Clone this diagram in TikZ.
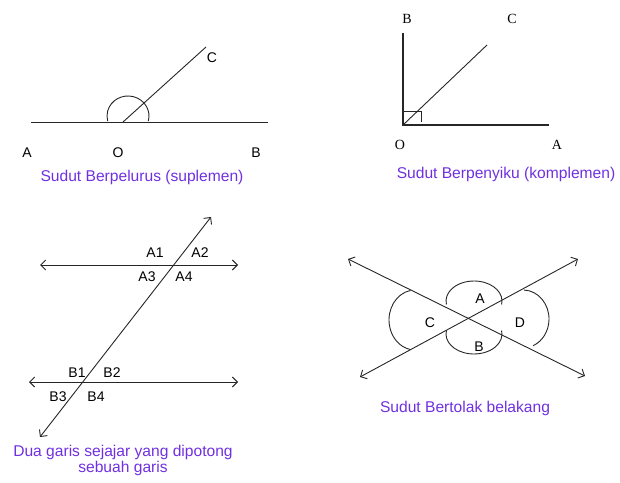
\documentclass[tikz,border=0pt]{standalone}
\usepackage{fontspec}
\setmainfont{Liberation Sans}
\newfontfamily\serifx{Liberation Serif}
\usetikzlibrary{arrows.meta}
\definecolor{capcol}{RGB}{112,48,224}
\begin{document}
\begin{tikzpicture}[x=1pt,y=1pt,
  ln/.style={draw=black!85, line width=0.9pt},
  dbl/.style={ln, {Straight Barb[length=5pt,width=10pt]}-{Straight Barb[length=5pt,width=10pt]}},
  lab/.style={font=\fontsize{14}{16}\selectfont, inner sep=0pt},
  slab/.style={font=\serifx\fontsize{14}{16}\selectfont, inner sep=0pt},
  captx/.style={text=capcol, font=\fontsize{15.6}{18}\selectfont, inner sep=0pt, align=center}]
\useasboundingbox (0,0) rectangle (620,482);
% Panel 1
\coordinate (p1A) at (31,360);
\coordinate (p1B) at (268,360);
\coordinate (p1O) at (123,360);
\coordinate (p1C) at (206,435);
\draw[ln] (p1A) -- (p1B);
\draw[ln] (p1O) -- (p1C);
\draw[ln] ([shift={(-15:21 and 20)}]128,366) arc[start angle=-15, end angle=195, x radius=21, y radius=20];
\node[lab] (l1A) at (27,329) {A};
\node[lab] (l1O) at (118,329) {O};
\node[lab] (l1B) at (256,329) {B};
\node[lab] (l1C) at (212,424) {C};
\node[captx] (cap1) at (142,305) {Sudut Berpelurus (suplemen)};
% Panel 2
\coordinate (p2O) at (403,357);
\coordinate (p2B) at (403,449);
\coordinate (p2A) at (549,357);
\coordinate (p2C) at (487,437);
\draw[ln, line width=1.1pt] (p2B) -- (p2O) -- (p2A);
\draw[ln] (p2O) -- (p2C);
\draw[ln, line width=0.7pt] (403,371) -- (421,371) -- (421,360);
\node[slab] (l2B) at (407,463) {B};
\node[slab] (l2C) at (512,463) {C};
\node[slab] (l2O) at (400,337) {O};
\node[slab] (l2A) at (557,337) {A};
\node[captx] (cap2) at (506,308) {Sudut Berpenyiku (komplemen)};
% Panel 3
\coordinate (u1) at (40,217);
\coordinate (u2) at (238,217);
\coordinate (d1) at (29,100);
\coordinate (d2) at (238,100);
\coordinate (t1) at (40,45);
\coordinate (t2) at (211,265);
\draw[dbl] (u1) -- (u2);
\draw[dbl] (d1) -- (d2);
\draw[dbl] (t1) -- (t2);
\node[lab] (A1) at (155,229) {A1};
\node[lab] (A2) at (200,229) {A2};
\node[lab] (A3) at (147,205) {A3};
\node[lab] (A4) at (184,205) {A4};
\node[lab] (B1) at (77,109) {B1};
\node[lab] (B2) at (112,109) {B2};
\node[lab] (B3) at (58,85) {B3};
\node[lab] (B4) at (96,85) {B4};
\node[captx] (cap3) at (123,22) {Dua garis sejajar yang dipotong\\[-2pt]sebuah garis};
% Panel 4
\coordinate (e1) at (348,223);
\coordinate (e2) at (585,106);
\coordinate (f1) at (360,105);
\coordinate (f2) at (578,223);
\draw[dbl] (e1) -- (e2);
\draw[dbl] (f1) -- (f2);
\draw[ln] ([shift={(-10:28 and 20)}]474,181) arc[start angle=-10, end angle=190, x radius=28, y radius=20];
\draw[ln] ([shift={(170:28 and 20)}]474,148) arc[start angle=170, end angle=370, x radius=28, y radius=20];
\draw[ln] ([shift={(100:26 and 30)}]415,162) arc[start angle=100, end angle=260, x radius=26, y radius=30];
\draw[ln] ([shift={(88:26 and 29)}]523,163) arc[start angle=88, end angle=-67, x radius=26, y radius=29];
\node[lab] (lA) at (480,183) {A};
\node[lab] (lB) at (479,135) {B};
\node[lab] (lC) at (430,159) {C};
\node[lab] (lD) at (520,159) {D};
\node[captx] (cap4) at (465,74) {Sudut Bertolak belakang};
\end{tikzpicture}
\end{document}
